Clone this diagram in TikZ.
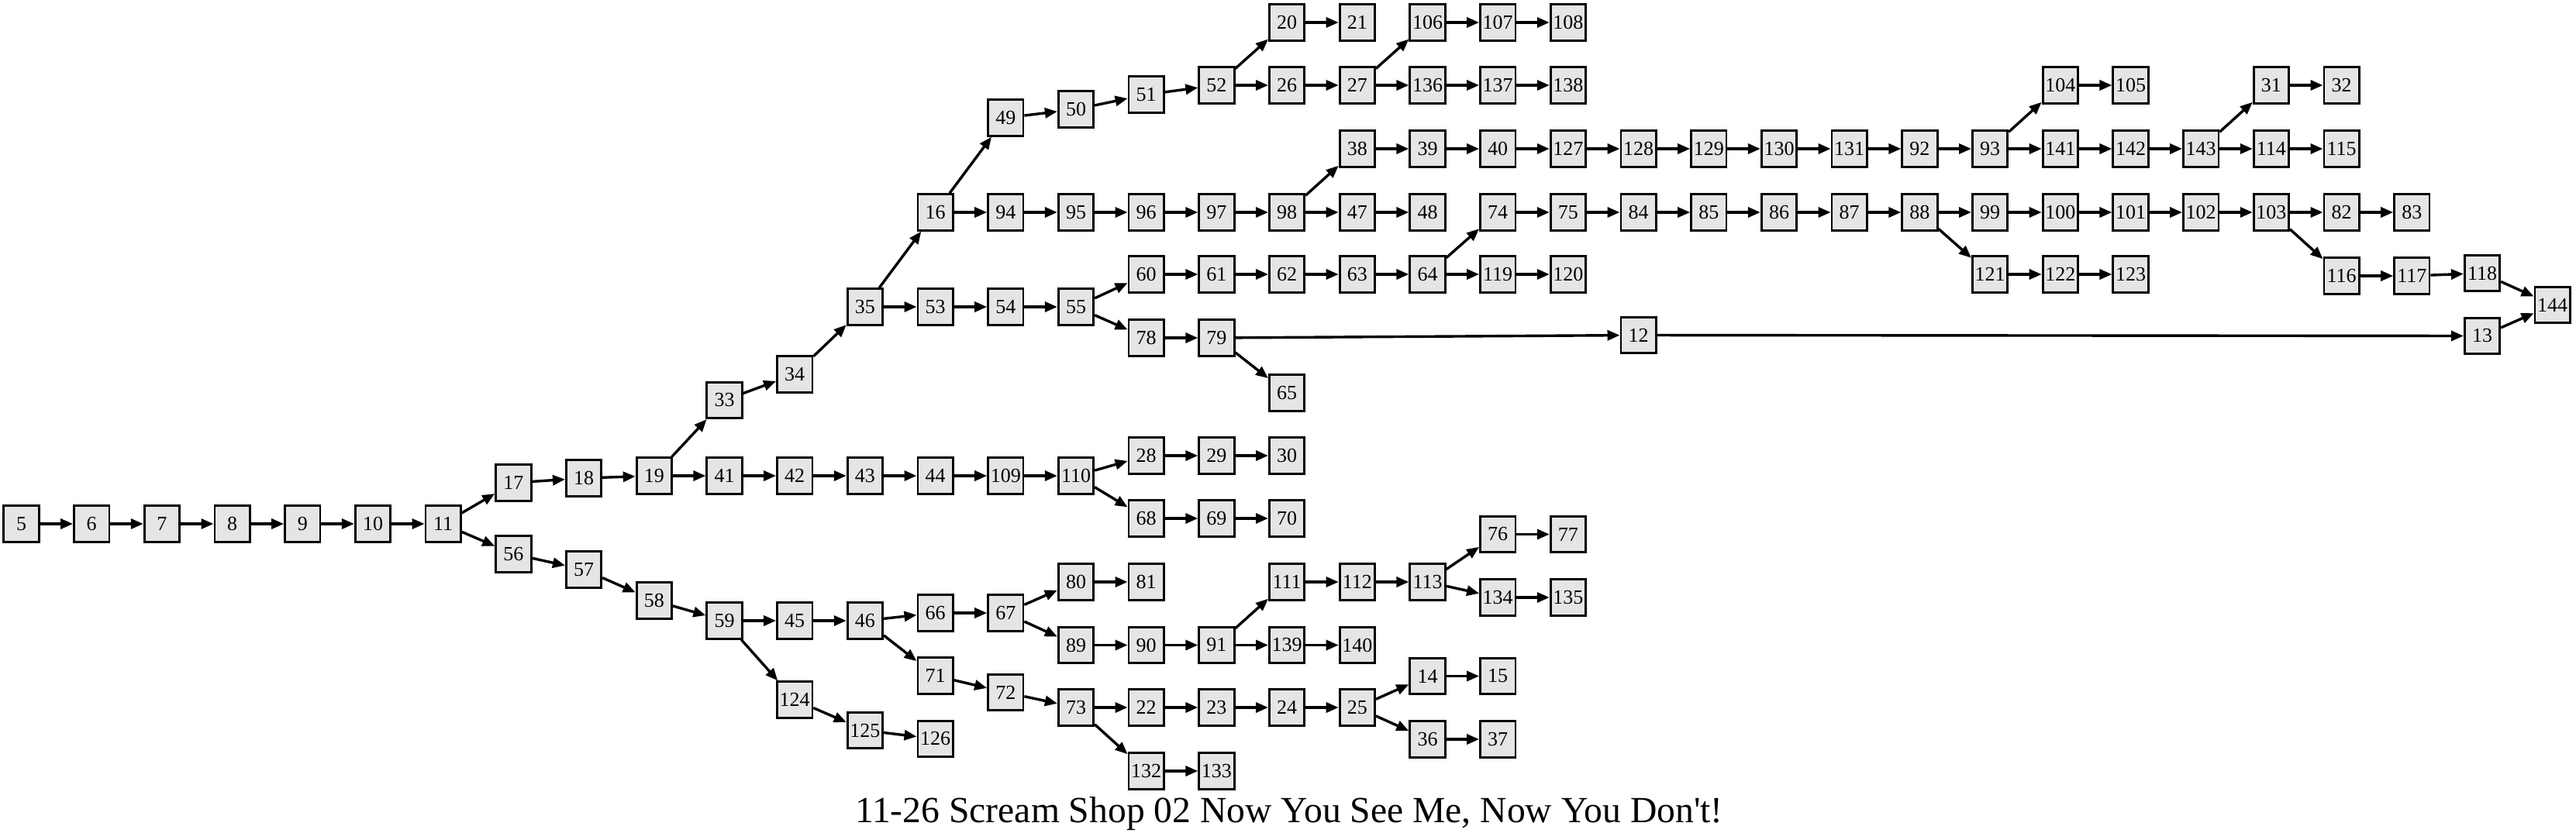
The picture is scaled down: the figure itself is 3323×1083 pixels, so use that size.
\documentclass[tikz,border=0pt]{standalone}
\usepackage{fontspec}
\setmainfont{Liberation Serif}
\usetikzlibrary{arrows.meta}
\definecolor{boxfill}{HTML}{E5E5E5}
\newcommand\mynode[3]{\node[gbox] (n#1) at ({27.5+90.7*(#2)},#3) {#1};}
\begin{document}
\begin{tikzpicture}[x=0.5pt,y=-0.5pt,
  gbox/.style={draw=black, fill=boxfill, line width=1.4pt, minimum width=22.7pt, minimum height=23.2pt, inner sep=0pt, font=\fontsize{13}{14}\selectfont},
  edge/.style={line width=1.7pt, -{Triangle[length=8pt,width=6.5pt]}}]
\useasboundingbox (0,0) rectangle (3323,1083);
% main chain
\mynode{5}{0}{676}
\mynode{6}{1}{676}
\mynode{7}{2}{676}
\mynode{8}{3}{676}
\mynode{9}{4}{676}
\mynode{10}{5}{676}
\mynode{11}{6}{676}
\mynode{17}{7}{623}
\mynode{18}{8}{617}
\mynode{19}{9}{614}
\mynode{33}{10}{516.5}
\mynode{34}{11}{483}
\mynode{35}{12}{396}
\mynode{53}{13}{396}
\mynode{54}{14}{396}
\mynode{55}{15}{396}
\mynode{16}{13}{274}
\mynode{49}{14}{152}
\mynode{50}{15}{141}
\mynode{51}{16}{122}
\mynode{52}{17}{110}
\mynode{20}{18}{29}
\mynode{21}{19}{29}
\mynode{26}{18}{110}
\mynode{27}{19}{110}
\mynode{106}{20}{29}
\mynode{107}{21}{29}
\mynode{108}{22}{29}
\mynode{136}{20}{110}
\mynode{137}{21}{110}
\mynode{138}{22}{110}
\mynode{94}{14}{274}
\mynode{95}{15}{274}
\mynode{96}{16}{274}
\mynode{97}{17}{274}
\mynode{98}{18}{274}
\mynode{47}{19}{274}
\mynode{48}{20}{274}
\mynode{38}{19}{192}
\mynode{39}{20}{192}
\mynode{40}{21}{192}
\mynode{127}{22}{192}
\mynode{128}{23}{192}
\mynode{129}{24}{192}
\mynode{130}{25}{192}
\mynode{131}{26}{192}
\mynode{92}{27}{192}
\mynode{93}{28}{192}
\mynode{104}{29}{110}
\mynode{105}{30}{110}
\mynode{141}{29}{192}
\mynode{142}{30}{192}
\mynode{143}{31}{192}
\mynode{31}{32}{110}
\mynode{32}{33}{110}
\mynode{114}{32}{192}
\mynode{115}{33}{192}
\mynode{60}{16}{354}
\mynode{61}{17}{354}
\mynode{62}{18}{354}
\mynode{63}{19}{354}
\mynode{64}{20}{354}
\mynode{119}{21}{354}
\mynode{120}{22}{354}
\mynode{74}{21}{274}
\mynode{75}{22}{274}
\mynode{84}{23}{274}
\mynode{85}{24}{274}
\mynode{86}{25}{274}
\mynode{87}{26}{274}
\mynode{88}{27}{274}
\mynode{99}{28}{274}
\mynode{100}{29}{274}
\mynode{101}{30}{274}
\mynode{102}{31}{274}
\mynode{103}{32}{274}
\mynode{82}{33}{274}
\mynode{83}{34}{274}
\mynode{121}{28}{354}
\mynode{122}{29}{354}
\mynode{123}{30}{354}
\mynode{116}{33}{356}
\mynode{117}{34}{356}
\mynode{118}{35}{352.5}
\mynode{144}{36}{393.5}
\mynode{78}{16}{436}
\mynode{79}{17}{436}
\mynode{65}{18}{507}
\mynode{12}{23}{432.5}
\mynode{13}{35}{433.5}
\mynode{41}{10}{614}
\mynode{42}{11}{614}
\mynode{43}{12}{614}
\mynode{44}{13}{614}
\mynode{109}{14}{614}
\mynode{110}{15}{614}
\mynode{28}{16}{588}
\mynode{29}{17}{588}
\mynode{30}{18}{588}
\mynode{68}{16}{669}
\mynode{69}{17}{669}
\mynode{70}{18}{669}
\mynode{56}{7}{715}
\mynode{57}{8}{735}
\mynode{58}{9}{775}
\mynode{59}{10}{801}
\mynode{45}{11}{801}
\mynode{46}{12}{801}
\mynode{66}{13}{791}
\mynode{67}{14}{791}
\mynode{80}{15}{751}
\mynode{81}{16}{751}
\mynode{89}{15}{832.5}
\mynode{90}{16}{832.5}
\mynode{91}{17}{832.5}
\mynode{111}{18}{751}
\mynode{112}{19}{751}
\mynode{113}{20}{751}
\mynode{76}{21}{689.5}
\mynode{77}{22}{689.5}
\mynode{134}{21}{771}
\mynode{135}{22}{771}
\mynode{139}{18}{832.5}
\mynode{140}{19}{832.5}
\mynode{71}{13}{872}
\mynode{72}{14}{893.5}
\mynode{73}{15}{913}
\mynode{22}{16}{913}
\mynode{23}{17}{913}
\mynode{24}{18}{913}
\mynode{25}{19}{913}
\mynode{14}{20}{872.5}
\mynode{15}{21}{872.5}
\mynode{36}{20}{954}
\mynode{37}{21}{954}
\mynode{132}{16}{995}
\mynode{133}{17}{995}
\mynode{124}{11}{903}
\mynode{125}{12}{942.5}
\mynode{126}{13}{953.5}
% edges
\foreach \a/\b in {5/6,6/7,7/8,8/9,9/10,10/11,11/17,11/56,17/18,18/19,19/33,19/41,
  33/34,34/35,35/16,35/53,16/49,16/94,49/50,50/51,51/52,52/20,52/26,20/21,26/27,
  27/106,27/136,106/107,107/108,136/137,137/138,94/95,95/96,96/97,97/98,98/38,98/47,
  47/48,38/39,39/40,40/127,127/128,128/129,129/130,130/131,131/92,92/93,93/104,93/141,
  104/105,141/142,142/143,143/31,143/114,31/32,114/115,53/54,54/55,55/60,55/78,
  60/61,61/62,62/63,63/64,64/74,64/119,119/120,74/75,75/84,84/85,85/86,86/87,87/88,
  88/99,88/121,121/122,122/123,99/100,100/101,101/102,102/103,103/82,82/83,103/116,
  116/117,117/118,118/144,78/79,79/12,79/65,12/13,13/144,41/42,42/43,43/44,44/109,
  109/110,110/28,110/68,28/29,29/30,68/69,69/70,56/57,57/58,58/59,59/45,59/124,
  45/46,46/66,46/71,66/67,67/80,67/89,80/81,89/90,90/91,91/111,91/139,111/112,
  112/113,113/76,113/134,76/77,134/135,139/140,71/72,72/73,73/22,73/132,22/23,
  23/24,24/25,25/14,25/36,14/15,36/37,132/133,124/125,125/126}
  \draw[edge] (n\a) -- (n\b);
% title
\node[anchor=base, inner sep=0pt, font=\fontsize{23.8}{28}\selectfont] (title) at (1663,1061) {11-26 Scream Shop 02 Now You See Me, Now You Don\textquotesingle t!};
\end{tikzpicture}
\end{document}
